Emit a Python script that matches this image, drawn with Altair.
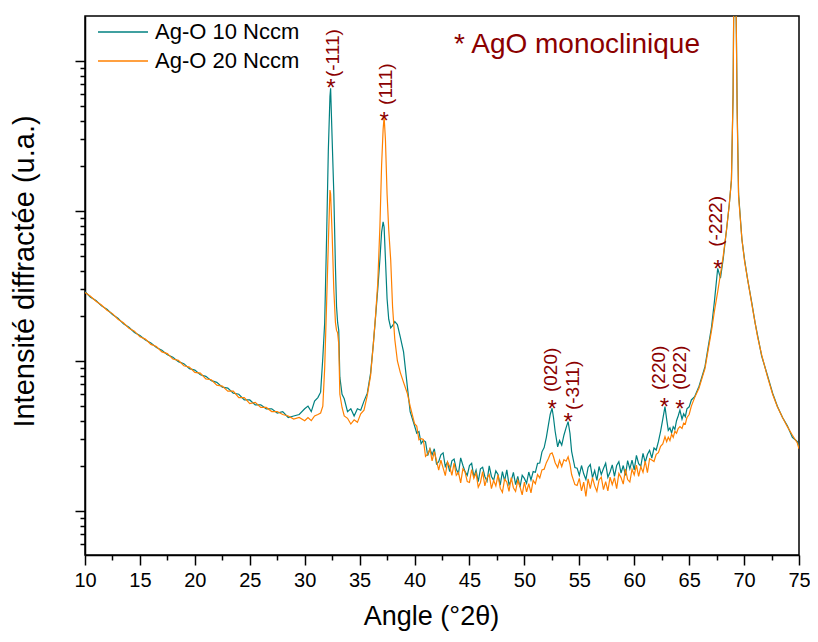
import altair as alt
import pandas as pd

# ---------------- data ----------------
angle = [
    # background 10-30
    10.0, 10.5, 11.0, 11.5, 12.0, 12.5, 13.0, 13.5, 14.0, 14.5,
    15.0, 15.5, 16.0, 16.5, 17.0, 17.5, 18.0, 18.5, 19.0, 19.5,
    20.0, 20.5, 21.0, 21.5, 22.0, 22.5, 23.0, 23.5, 24.0, 24.5,
    25.0, 25.5, 26.0, 26.5, 27.0, 27.5, 28.0, 28.5, 29.0, 29.5,
    30.0,
    # (-111) and (111) region
    30.3, 30.6, 30.9, 31.2, 31.45, 31.65, 31.82, 32.0, 32.15, 32.3,
    32.36, 32.5, 32.65, 32.8, 32.9, 33.0, 33.1, 33.2, 33.4, 33.6,
    33.9, 34.2, 34.5, 34.8, 35.1, 35.4, 35.7, 36.0, 36.25, 36.45,
    36.65, 36.85, 37.0, 37.14, 37.23, 37.35, 37.5, 37.65, 37.83, 38.0,
    38.2, 38.44, 38.7, 39.0, 39.34, 39.6,
    # noisy background 40-52
    40.0, 40.2, 40.4, 40.6, 40.8, 41.0, 41.2, 41.4, 41.6, 41.8,
    42.0, 42.2, 42.4, 42.6, 42.8, 43.0, 43.2, 43.4, 43.6, 43.8,
    44.0, 44.2, 44.4, 44.6, 44.8, 45.0, 45.2, 45.4, 45.6, 45.8,
    46.0, 46.2, 46.4, 46.6, 46.8, 47.0, 47.2, 47.4, 47.6, 47.8,
    48.0, 48.2, 48.4, 48.6, 48.8, 49.0, 49.2, 49.4, 49.6, 49.8,
    50.0, 50.2, 50.4, 50.6, 50.8, 51.0, 51.2, 51.4, 51.6, 51.8,
    # (020) and (-311)
    52.0, 52.2, 52.35, 52.52, 52.65, 52.8, 53.03, 53.2, 53.4, 53.6,
    53.8, 53.98, 54.15, 54.3, 54.45, 54.6,
    # noisy background 55-62
    54.8, 55.0, 55.2, 55.4, 55.6, 55.8, 56.0, 56.2, 56.4, 56.6,
    56.8, 57.0, 57.2, 57.4, 57.6, 57.8, 58.0, 58.2, 58.4, 58.6,
    58.8, 59.0, 59.2, 59.4, 59.6, 59.8, 60.0, 60.2, 60.4, 60.6,
    60.8, 61.0, 61.2, 61.4, 61.6, 61.8, 62.0,
    # (220), (022), (-222) and the substrate peak
    62.2, 62.4, 62.6, 62.8, 62.95, 63.1, 63.25, 63.4, 63.55, 63.7,
    63.85, 64.0, 64.16, 64.35, 64.5, 64.65, 64.8, 65.0, 65.2, 65.5,
    65.9, 66.2, 66.44, 66.7, 67.04, 67.3, 67.6, 67.85, 68.1, 68.4,
    68.65, 68.85, 69.0, 69.1, 69.2, 69.3, 69.37, 69.5, 69.8, 70.05,
    70.33, 70.7, 71.0, 71.23, 71.6, 72.13, 72.6, 73.03, 73.5, 73.94,
    74.4, 74.85, 75.0,
]

i_10 = [  # Ag-O 10 Nccm (teal)
    290, 266, 253, 233, 221, 204, 193, 177, 168, 155,
    148, 138, 132, 123, 118, 110, 106, 99, 96, 89,
    87, 81, 79, 74, 72, 67, 66, 61, 60, 55,
    55, 51, 51, 48, 48, 45, 46, 42, 43, 44,
    48,
    50, 46, 54, 57, 62, 105, 180, 700, 2500, 5800,
    6577, 3000, 1320, 420, 230, 180, 160, 78, 60, 56,
    46, 48, 43, 48, 47, 54, 61, 83, 130, 196,
    300, 480, 720, 848, 780, 480, 260, 190, 166, 172,
    183, 175, 145, 115, 68, 46,
    37, 33, 33.9, 28.1, 29.6, 28.9, 23.4, 26, 23.7, 26,
    20.6, 21.3, 23.7, 24.4, 19.8, 21.2, 18.3, 21.6, 22.2, 19,
    17.8, 22.6, 20.2, 18.3, 17.3, 20.1, 20.8, 16.9, 18.7, 15.7,
    19.1, 19.6, 17, 15.8, 20, 17, 16, 18.5, 17.5, 14.9,
    18.3, 15.9, 18.8, 15, 15.9, 18.1, 15, 17, 14.4, 17.3,
    16.5, 15.3, 18.2, 16.1, 18.3, 18.1, 20.8, 20.9, 24.8, 26.5,
    31, 38, 44, 48.4, 42, 34, 26.8, 29.5, 27.5, 32,
    36, 39.4, 33, 25, 22, 19.5,
    19.3, 17.3, 20.1, 17.7, 16.2, 19.5, 20.4, 16.7, 18.6, 16,
    19.8, 17.5, 19.2, 20.8, 16.8, 18.2, 20.3, 17, 20.1, 21.3,
    17.9, 20.1, 17.3, 21.7, 19.1, 21.8, 18.8, 23.5, 20.7, 19.9,
    24.2, 21.1, 23.8, 25.4, 22.5, 26.3, 25.5,
    29, 34, 41, 49.6, 41, 34.5, 35.8, 33.1, 36.5, 35,
    40, 43, 47.1, 41, 44.5, 42.5, 48, 49.5, 55, 57.8,
    68, 80, 91.6, 120, 169, 250, 415, 357, 480, 747,
    1100, 1610, 6000, 60000, 60000, 15000, 4955, 1300, 650, 470,
    347, 245, 180, 148, 108, 80, 61, 50, 42, 37,
    31, 29, 27,
]

i_20 = [  # Ag-O 20 Nccm (orange)
    286, 270, 250, 236, 218, 207, 190, 180, 165, 158,
    145, 140, 129, 125, 115, 112, 103, 101, 93, 91,
    84, 83, 76, 75, 69, 68, 63, 63, 57, 57,
    52, 53, 49, 49, 46, 46, 44, 43, 41, 42,
    40,
    42, 40, 43, 44, 45, 50, 90, 250, 600, 1380,
    1300, 700, 300, 180, 160, 154, 130, 60, 49, 43,
    41.5, 38, 40.5, 39, 44.5, 47, 59, 80, 130, 200,
    330, 800, 2000, 3500, 4254, 3000, 1300, 750, 471, 230,
    140, 100, 84, 72, 61, 50,
    38.2, 36.8, 29.8, 30.4, 30, 23.1, 24, 25.9, 21.6, 24.9,
    21.7, 18.7, 21.8, 19.4, 17.2, 21.2, 19.8, 17.3, 20.9, 17.3,
    18.1, 15.4, 19.1, 18.2, 15.7, 15.5, 18.9, 16.5, 17.9, 14.4,
    15.5, 18.3, 14.7, 16.6, 17.5, 14.1, 16, 14.7, 17.4, 14.2,
    13.3, 16.3, 15.6, 13.5, 16.7, 14.3, 13.5, 16, 14.5, 12.8,
    15.6, 13.4, 15.2, 13.2, 16, 15.2, 17.5, 16.6, 18.8, 19,
    21, 22.5, 24, 24.4, 23, 21, 19.5, 21.8, 19.8, 22,
    21.5, 23, 20.5, 17.5, 16.2, 15.0,
    14.8, 16.5, 13.6, 15.6, 12.5, 16.4, 14.1, 16.7, 14.7, 13.5,
    16.1, 16.8, 13.9, 15.7, 13.6, 16.8, 15, 16.7, 14.1, 17.8,
    16.7, 15.1, 19, 16.2, 15.6, 19, 17.4, 20.2, 17, 19.8,
    18.1, 21.5, 18, 22.3, 21.9, 21.4, 23.9,
    24.5, 27, 28, 31.3, 29, 31, 29.5, 32.5, 31, 34,
    33, 35.5, 36.5, 35.5, 38.5, 38, 42, 44, 50, 57,
    66, 78, 89, 115, 160, 215, 290, 380, 500, 747,
    1100, 1610, 6000, 60000, 60000, 15000, 4500, 1250, 650, 460,
    347, 240, 180, 145, 110, 78.6, 60, 49.6, 42, 36.5,
    32, 28.4, 26,
]

series_names = ["Ag-O 10 Nccm", "Ag-O 20 Nccm"]
series_colors = ["#008080", "#FF8000"]

# peak markers (asterisks) and Miller-index labels
star_angle = [32.39, 37.24, 52.52, 53.99, 62.75, 64.17, 67.62]
star_int = [5850, 3523, 42.1, 34.6, 43.9, 42.5, 361]
hkl_text = ["(-111)", "(111)", "(020)", "(-311)", "(220)", "(022)", "(-222)"]
hkl_angle = [32.57, 37.38, 52.43, 54.40, 62.27, 64.17, 67.47]
hkl_int = [7816, 5093, 62.1, 47.1, 64.1, 64.1, 578]

note_text = ["* AgO monoclinique"]
note_angle = [43.6]
note_int = [12790]

x_ticks = [10 + 2.5 * k for k in range(27)]
y_ticks = [m * 10 ** k for k in range(0, 5) for m in range(1, 10)
           if 5.09 <= m * 10 ** k <= 19950]

assert len(angle) == len(i_10) == len(i_20), (len(angle), len(i_10), len(i_20))

# ---------------- tables ----------------
spec_df = pd.DataFrame({
    "angle": angle + angle,
    "intensity": i_10 + i_20,
    "series": [series_names[0]] * len(angle) + [series_names[1]] * len(angle),
})
star_df = pd.DataFrame({"angle": star_angle, "intensity": star_int, "t": ["*"] * len(star_angle)})
hkl_df = pd.DataFrame({"angle": hkl_angle, "intensity": hkl_int, "t": hkl_text})
note_df = pd.DataFrame({"angle": note_angle, "intensity": note_int, "t": note_text})

FONT = "Liberation Sans"
DARKRED = "#8B0000"

x_enc = alt.X(
    "angle:Q",
    scale=alt.Scale(domain=[10, 75], nice=False, zero=False),
    axis=alt.Axis(
        values=x_ticks,
        labelExpr="datum.value % 5 === 0 ? datum.label : ''",
        tickSize={"condition": {"test": "datum.value % 5 === 0", "value": 10}, "value": 5},
        title="Angle (°2θ)",
        labelFontSize=20,
        labelPadding=5,
        titleFontSize=27,
        titlePadding=13,
        titleX=346,
        labelOverlap=False,
        labelFlush=False,
    ),
)
y_enc = alt.Y(
    "intensity:Q",
    scale=alt.Scale(type="log", domain=[5.09, 19950], nice=False),
    axis=alt.Axis(
        values=y_ticks,
        labels=False,
        tickSize={"condition": {
            "test": "abs(log(datum.value)/LN10 - round(log(datum.value)/LN10)) < 0.001",
            "value": 10}, "value": 5},
        title="Intensité diffractée (u.a.)",
        titleFontSize=29,
        titlePadding=35,
        titleY=255,
    ),
)

lines = alt.Chart(spec_df).mark_line(strokeWidth=1.2, clip=True).encode(
    x=x_enc,
    y=y_enc,
    color=alt.Color(
        "series:N",
        scale=alt.Scale(domain=series_names, range=series_colors),
        legend=alt.Legend(
            title=None,
            orient="none",
            legendX=27,
            legendY=5,
            symbolType="M-2.5,0H2.5",
            symbolSize=400,
            symbolStrokeWidth=1.5,
            labelFontSize=22,
            labelFont=FONT,
            labelOffset=21,
            labelLimit=400,
            rowPadding=7,
            padding=0,
        ),
    ),
)

stars = alt.Chart(star_df).mark_text(
    fontSize=24, color=DARKRED, align="center", baseline="alphabetic", font=FONT
).encode(x=x_enc, y=y_enc, text="t:N")

hkl = alt.Chart(hkl_df).mark_text(
    fontSize=19, color=DARKRED, angle=270, align="left", baseline="middle", font=FONT
).encode(x=x_enc, y=y_enc, text="t:N")

note = alt.Chart(note_df).mark_text(
    fontSize=28, color=DARKRED, align="left", baseline="middle", font=FONT
).encode(x=x_enc, y=y_enc, text="t:N")

chart = alt.layer(lines, stars, hkl, note).properties(
    width=714,
    height=539,
    autosize=alt.AutoSizeParams(type="none"),
    padding={"left": 77, "top": 8, "right": 11, "bottom": 78},
).configure(font=FONT).configure_view(
    stroke="black", strokeWidth=1.5
).configure_axis(
    grid=False,
    domainColor="black",
    domainWidth=1.5,
    tickColor="black",
    tickWidth=1.5,
    labelColor="black",
    titleColor="black",
    titleFontWeight="normal",
    labelFont=FONT,
    titleFont=FONT,
)

chart.save("out.html", embed_options={"renderer": "svg", "actions": False})
